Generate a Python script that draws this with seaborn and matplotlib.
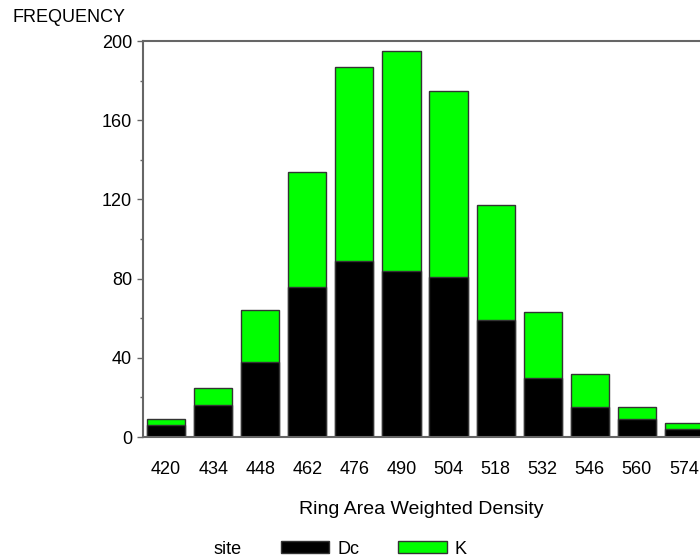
import matplotlib
matplotlib.use("Agg")
import numpy as np
import pandas as pd
import matplotlib.pyplot as plt
import seaborn as sns
from matplotlib.patches import Patch
from matplotlib.ticker import MultipleLocator

# histogram of ring area weighted density, stacked by site
density = ["420", "434", "448", "462", "476", "490", "504", "518", "532", "546", "560", "574"]
dc_counts = [6, 16, 38, 76, 89, 84, 81, 59, 30, 15, 9, 4]
k_counts = [3, 9, 26, 58, 98, 111, 94, 58, 33, 17, 6, 3]
y_ticks = [0, 40, 80, 120, 160, 200]

sns.set_theme(style="white")
plt.rcParams['font.family'] = ['Liberation Sans', 'DejaVu Sans']
plt.rcParams['text.color'] = 'black'
plt.rcParams['axes.labelcolor'] = 'black'
plt.rcParams['xtick.labelcolor'] = 'black'
plt.rcParams['ytick.labelcolor'] = 'black'

df = pd.DataFrame({"density": density, "Dc": dc_counts, "K": k_counts})
df["total"] = df["Dc"] + df["K"]

fig = plt.figure(figsize=(7, 5.6), dpi=100)
ax = fig.add_axes([142.5 / 700, 123 / 560, 557.5 / 700, 396 / 560])

# total first (green), Dc drawn over it in black
sns.barplot(data=df, x="density", y="total", order=density, color="#00ff00",
            saturation=1, width=0.81, edgecolor="#333333", linewidth=1, ax=ax)
sns.barplot(data=df, x="density", y="Dc", order=density, color="black",
            saturation=1, width=0.81, edgecolor="#333333", linewidth=1, ax=ax)

ax.set_xlim(-0.5, 11.34)
ax.set_ylim(0, 200)
ax.set_yticks(y_ticks)
ax.yaxis.set_minor_locator(MultipleLocator(20))

for side in ["top", "left", "bottom"]:
    ax.spines[side].set_color("#666666")
    ax.spines[side].set_linewidth(1.5)
ax.spines["right"].set_visible(False)

ax.tick_params(axis="y", which="major", left=True, length=4.5, width=1,
               color="#666666", direction="out", pad=3, labelsize=13)
ax.tick_params(axis="y", which="minor", left=True, length=2.5, width=1,
               color="#666666", direction="out")
ax.tick_params(axis="x", bottom=False, length=0, pad=17, labelsize=13)

ax.set_ylabel("")
ax.set_xlabel("Ring Area Weighted Density", fontsize=14, labelpad=17)

fig.text(12 / 700, 1 - 17 / 560, "FREQUENCY", va="center", ha="left", fontsize=13)

handles = [Patch(facecolor="black", edgecolor="#333333", label="Dc"),
           Patch(facecolor="#00ff00", edgecolor="#333333", label="K")]
fig.legend(handles=handles, loc="center left", bbox_to_anchor=(281 / 700, 11 / 560),
           ncol=2, frameon=False, fontsize=13, handlelength=2.67, handleheight=0.67,
           handletextpad=0.44, columnspacing=2.17, borderpad=0, borderaxespad=0)
fig.text(213 / 700, 11 / 560, "site", va="center", ha="left", fontsize=13)

fig.savefig("out.png", dpi=100)
